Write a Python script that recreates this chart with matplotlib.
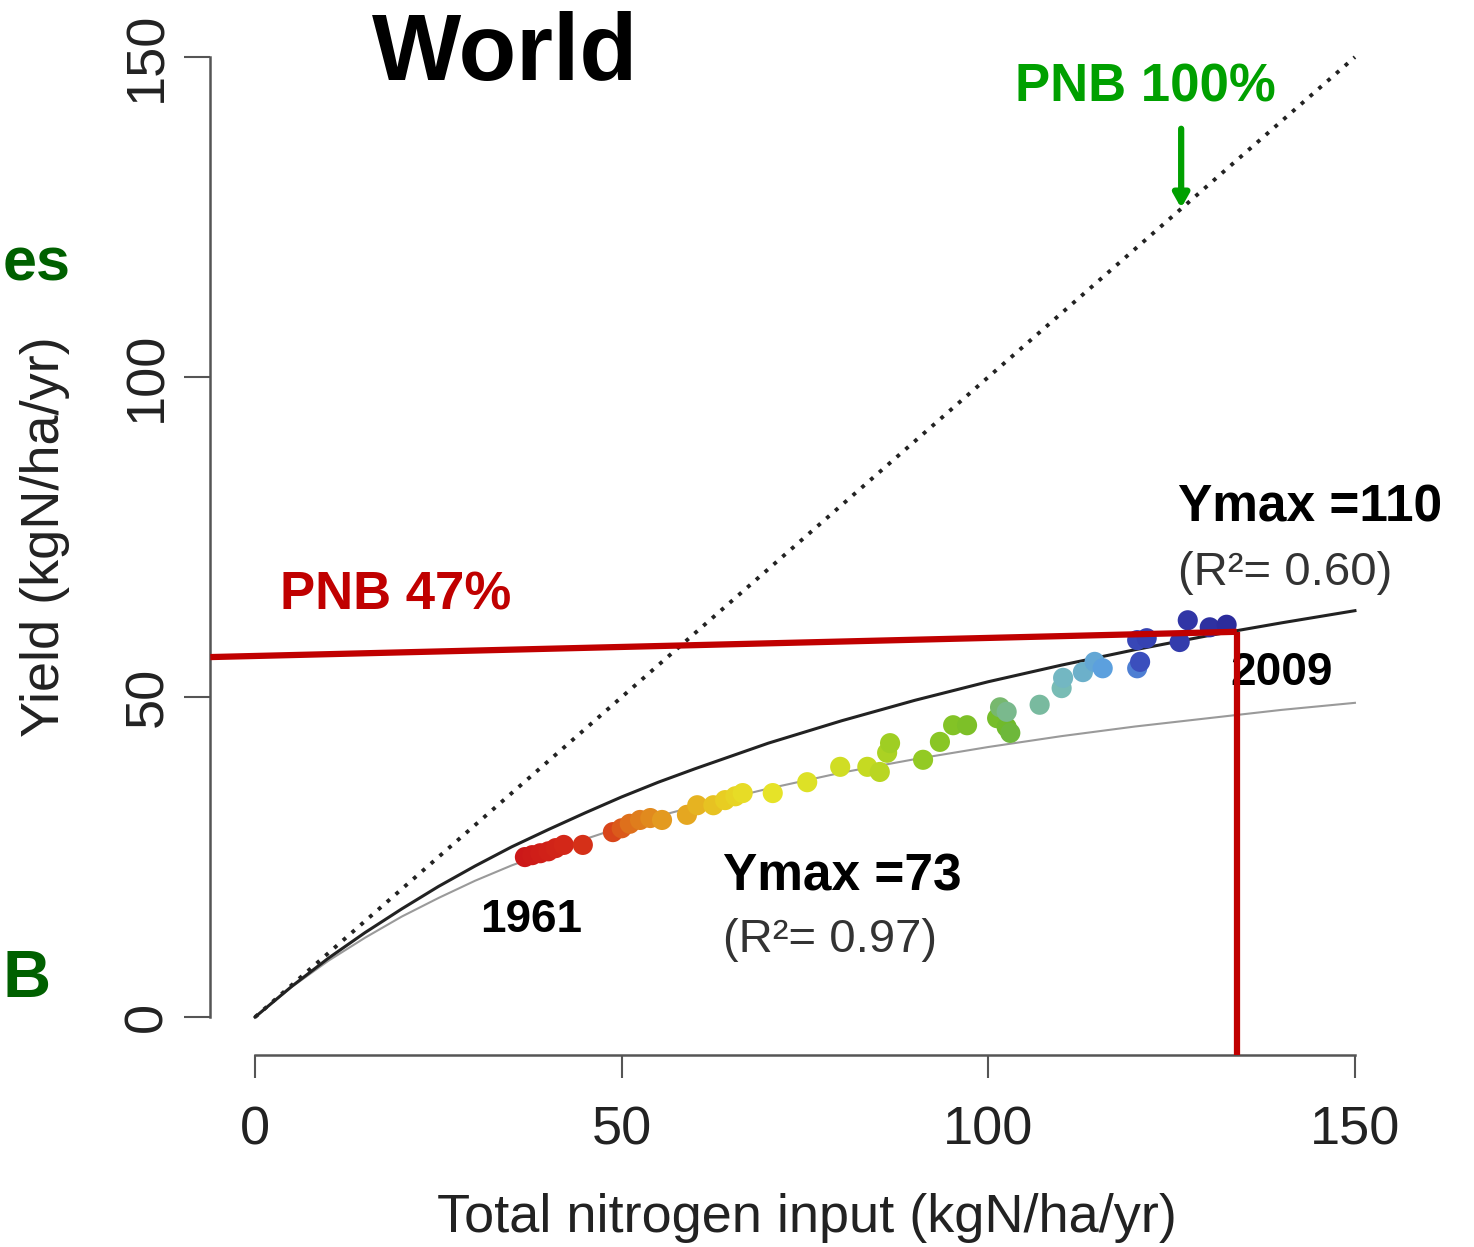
import matplotlib
matplotlib.use("Agg")
import matplotlib.pyplot as plt
from matplotlib.colors import LinearSegmentedColormap
import numpy as np

plt.rcParams["font.family"] = ["Liberation Sans", "DejaVu Sans"]

# yearly points 1961 -> 2009 (total N input, yield)
n_input = [36.8, 37.8, 38.9, 40.0, 41.0, 42.1, 44.7, 48.8, 50.0, 51.1,
           52.5, 53.9, 55.5, 58.9, 60.3, 62.5, 64.1, 65.5, 66.5, 70.6,
           75.3, 79.8, 83.5, 85.2, 86.2, 86.6, 91.1, 93.4, 95.2, 97.1,
           101.2, 102.5, 103.0, 101.6, 102.5, 107.0, 110.0, 110.2, 112.9, 114.5,
           115.6, 120.3, 120.7, 120.3, 121.6, 126.1, 127.2, 130.2, 132.5]
yield_n = [25.0, 25.3, 25.6, 25.9, 26.4, 26.9, 26.9, 28.9, 29.5, 30.2,
           30.8, 31.1, 30.8, 31.6, 33.1, 33.1, 33.9, 34.5, 35.0, 35.0,
           36.7, 39.1, 39.1, 38.3, 41.3, 42.8, 40.2, 43.0, 45.6, 45.6,
           46.7, 45.3, 44.4, 48.4, 47.7, 48.8, 51.4, 53.0, 53.9, 55.5,
           54.5, 54.5, 55.5, 58.9, 59.2, 58.6, 62.0, 60.9, 61.3]

# fitted curves (Ymax = 110 and Ymax = 73), read along N
curve_n = [0, 5, 10, 15, 20, 25, 30, 35, 40, 45, 50, 55, 60,
           70, 80, 90, 100, 110, 120, 130, 140, 150]
curve_110 = [0, 4.8, 9.2, 13.2, 16.9, 20.4, 23.6, 26.6, 29.3, 31.9, 34.4, 36.7, 38.8,
             42.8, 46.3, 49.5, 52.4, 55.0, 57.4, 59.6, 61.6, 63.5]
curve_73 = [0, 4.7, 8.8, 12.4, 15.7, 18.6, 21.3, 23.7, 25.8, 27.8, 29.7, 31.4, 32.9,
            35.7, 38.2, 40.3, 42.2, 43.9, 45.4, 46.7, 48.0, 49.1]

# 1:1 line (PNB 100%)
diag = [0, 150]

# red guide lines (PNB 47%)
red_h_x = [-6.1, 133.9]
red_h_y = [56.25, 60.2]
red_v_x = [133.9, 133.9]
red_v_y = [60.2, -5.9]

ticks = [0, 50, 100, 150]

rainbow = LinearSegmentedColormap.from_list("yrs", [
    (0.00, "#cc1818"), (0.12, "#d42a18"), (0.18, "#dd6a1c"), (0.26, "#e4a020"),
    (0.33, "#e8cc22"), (0.40, "#e6e428"), (0.46, "#c4da22"), (0.55, "#8ec824"),
    (0.66, "#6cb82c"), (0.70, "#7ab884"), (0.76, "#78bcbc"), (0.84, "#5a9ee0"),
    (0.88, "#3a4cbc"), (1.00, "#2c2c9c")])
colors = rainbow(np.linspace(0, 1, len(n_input)))

fig = plt.figure(figsize=(14.74, 12.47), dpi=100)
ax = fig.add_axes([0.1427, 0.1541, 0.7815, 0.8104])
ax.set_xlim(-6.1, 151)
ax.set_ylim(-5.9, 152)

ax.plot(diag, diag, color="#222222", lw=2.8, linestyle=(0, (1, 2.0)))
ax.plot(curve_n, curve_73, color="#9a9a9a", lw=1.5)
ax.plot(curve_n, curve_110, color="#222222", lw=2.2)
ax.scatter(n_input, yield_n, s=210, c=colors, edgecolors="none", zorder=3)

ax.plot(red_h_x, red_h_y, color="#c00000", lw=4.5, zorder=4, solid_capstyle="butt")
ax.plot(red_v_x, red_v_y, color="#c00000", lw=4.5, zorder=4, solid_capstyle="butt")

for side in ("top", "right"):
    ax.spines[side].set_visible(False)
for side in ("left", "bottom"):
    ax.spines[side].set_color("#555555")
    ax.spines[side].set_linewidth(1.8)
ax.spines["left"].set_bounds(0, 150)
ax.spines["bottom"].set_bounds(0, 150)

ax.set_xticks(ticks)
ax.set_yticks(ticks)
ax.tick_params(axis="x", length=16.5, width=1.5, color="#555555", pad=20,
               labelsize=39, labelcolor="#222222")
ax.tick_params(axis="y", length=19, width=1.5, color="#555555", pad=8,
               labelsize=39, labelcolor="#222222")
plt.setp(ax.get_yticklabels(), rotation=90, va="center")

ax.set_xlabel("Total nitrogen input (kgN/ha/yr)", fontsize=39, color="#222222", va="center")
ax.xaxis.set_label_coords(0.518, -0.1615)
ax.set_ylabel("Yield (kgN/ha/yr)", fontsize=39, color="#222222", va="center")
ax.yaxis.set_label_coords(-0.1435, 0.5124)

ax.text(34.1, 150.3, "World", fontsize=68, fontweight="bold", ha="center", va="center")
ax.text(103.6, 145.2, "PNB 100%", fontsize=38, fontweight="bold", color="#00a000",
        ha="left", va="center")
ax.annotate("", xy=(126.3, 126.4), xytext=(126.3, 138.8),
            arrowprops=dict(arrowstyle="-|>,head_length=0.8,head_width=0.45",
                            color="#00a000", lw=4.5, shrinkA=0, shrinkB=0))
ax.text(3.4, 65.9, "PNB 47%", fontsize=38, fontweight="bold", color="#c00000",
        ha="left", va="center")
ax.text(125.9, 79.5, "Ymax =110", fontsize=37, fontweight="bold", ha="left", va="center")
ax.text(125.9, 69.4, "(R²= 0.60)", fontsize=34, color="#333333", ha="left", va="center")
ax.text(133.0, 53.75, "2009", fontsize=33, fontweight="bold", ha="left", va="center")
ax.text(30.7, 15.2, "1961", fontsize=33, fontweight="bold", ha="left", va="center")
ax.text(63.8, 21.9, "Ymax =73", fontsize=37, fontweight="bold", ha="left", va="center")
ax.text(63.8, 12.0, "(R²= 0.97)", fontsize=34, color="#333333", ha="left", va="center")

# labels from the neighbouring panel, seen at the left edge
fig.text(0.002, 0.7875, "es", fontsize=44, fontweight="bold", color="#006000",
         ha="left", va="center")
fig.text(0.002, 0.214, "B", fontsize=48, fontweight="bold", color="#006000",
         ha="left", va="center")

fig.savefig("out.png", dpi=100)
